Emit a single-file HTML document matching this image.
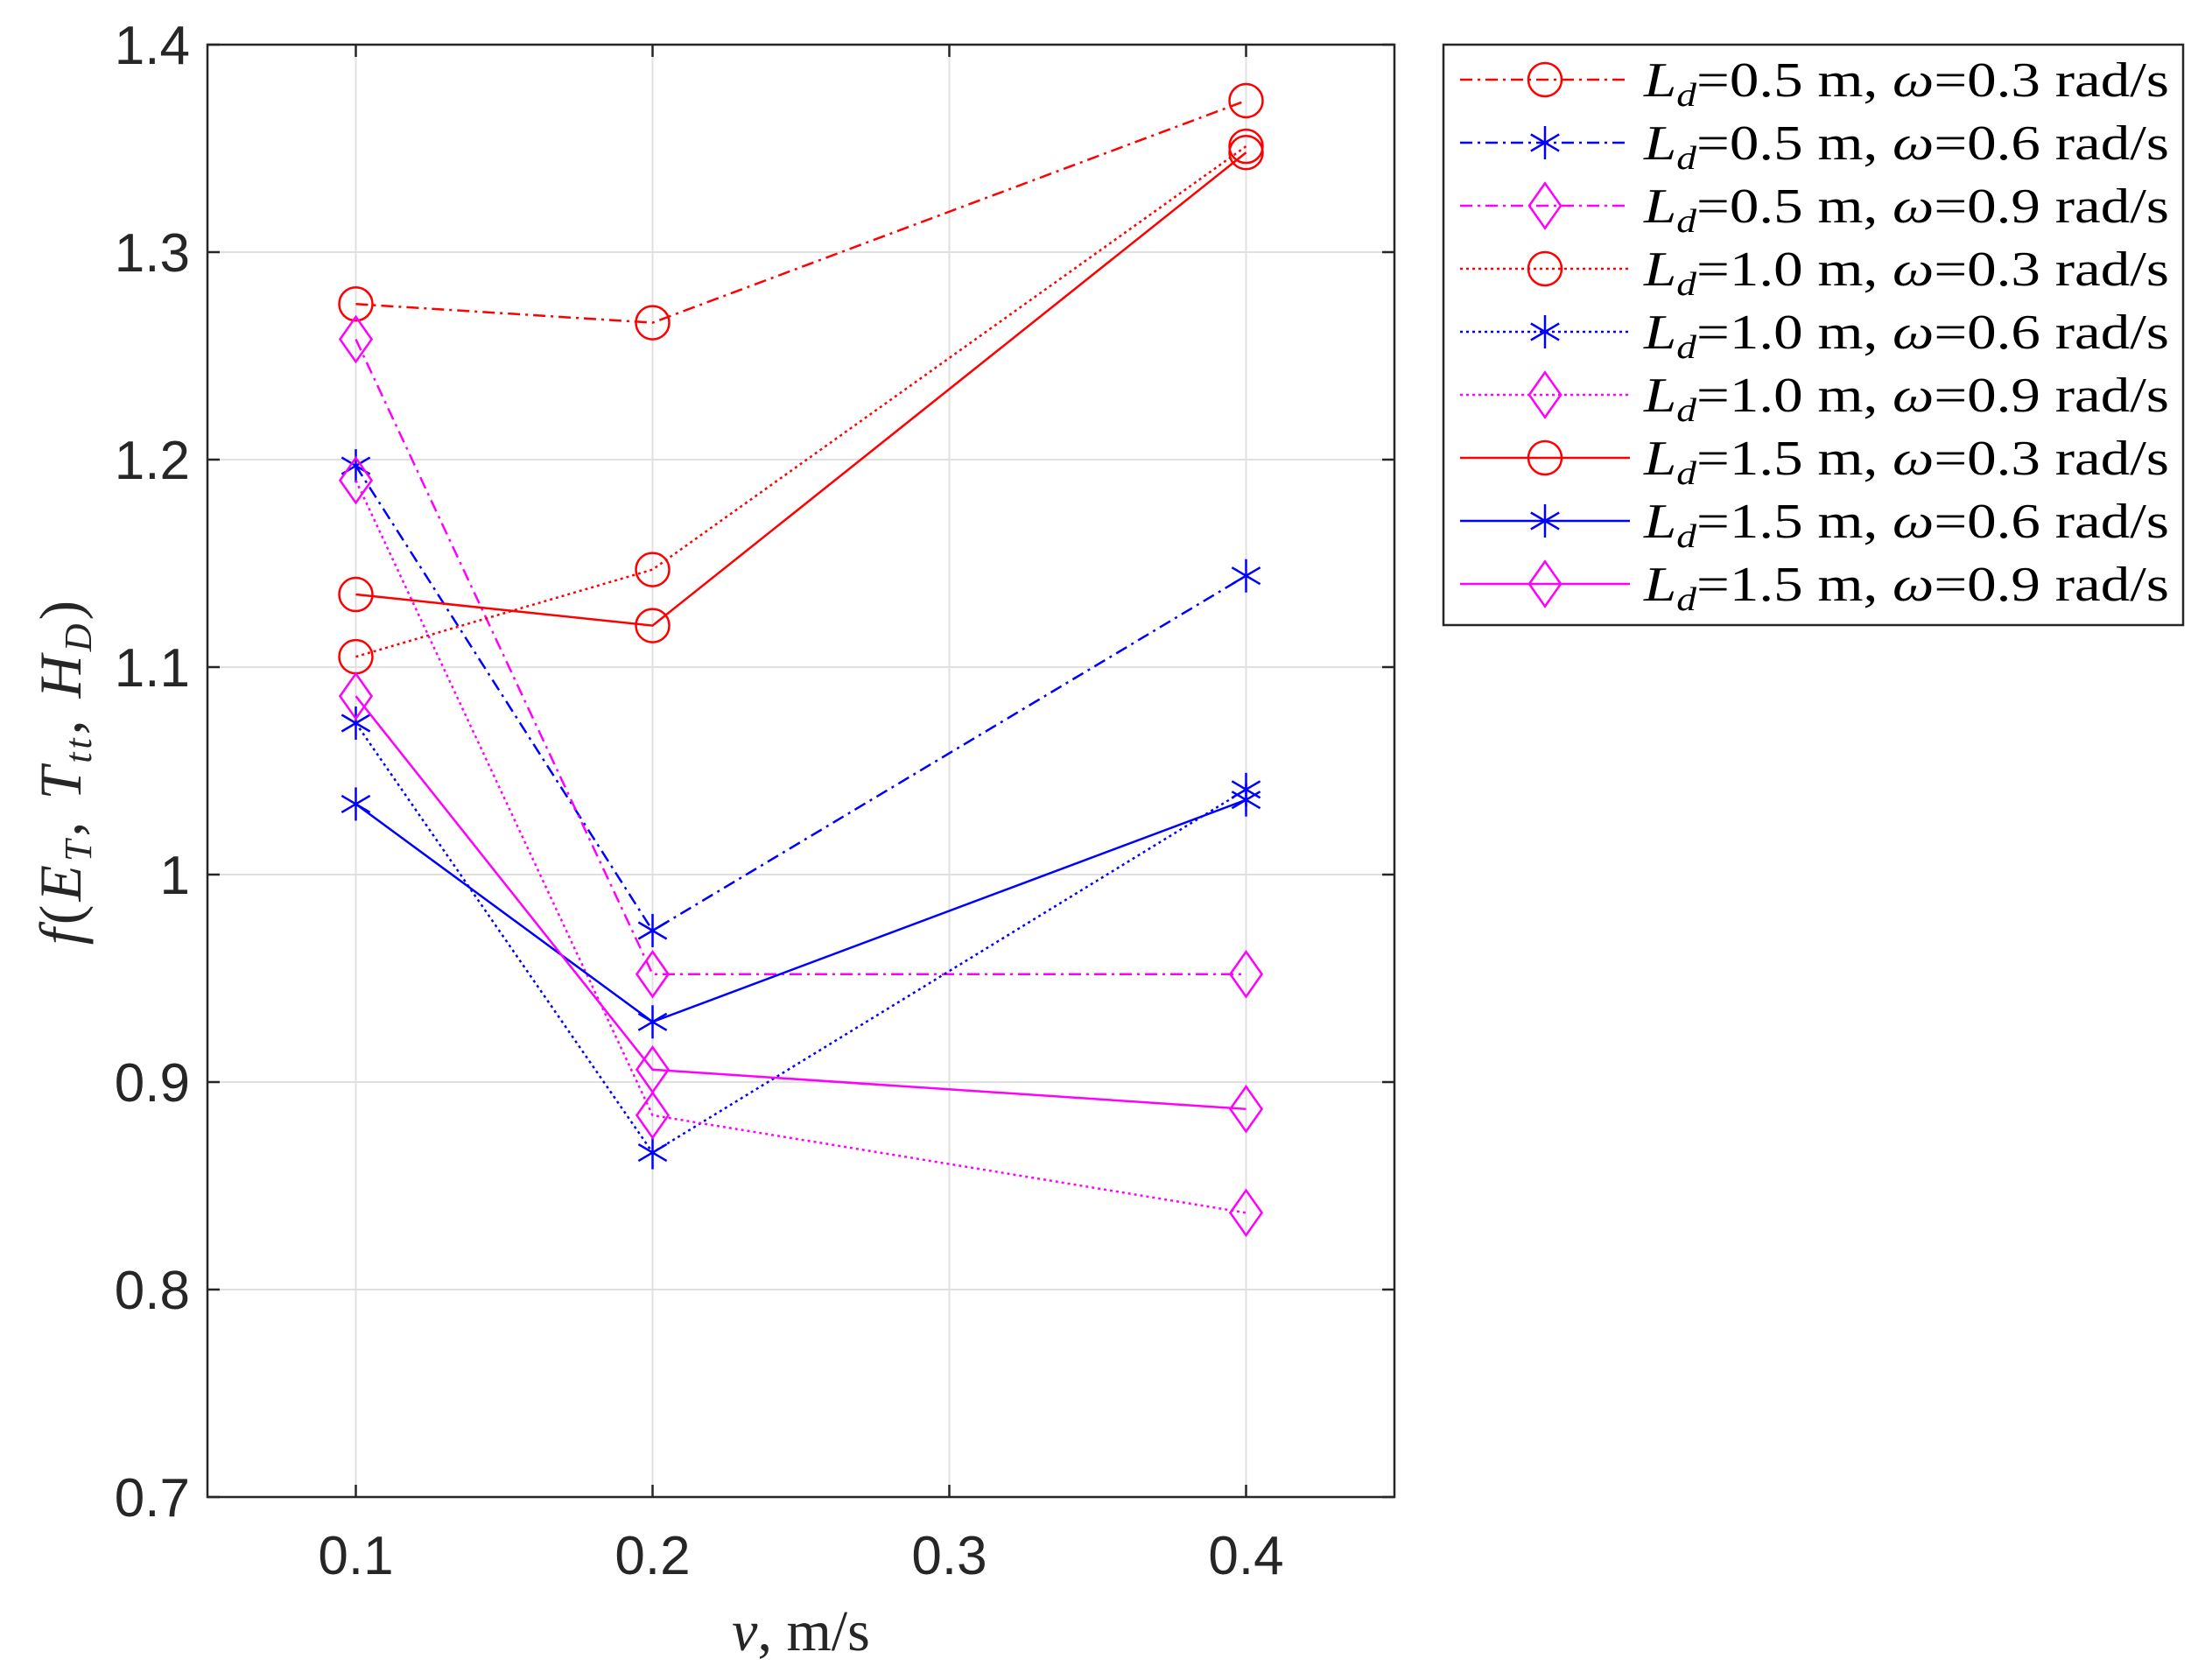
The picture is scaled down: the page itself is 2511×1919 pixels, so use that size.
<!DOCTYPE html>
<html><head><meta charset="utf-8"><style>
html,body{margin:0;padding:0;background:#fff;}
svg{display:block;}
</style></head><body>
<svg id="chart" width="2511" height="1919" viewBox="0 0 2511 1919" xmlns="http://www.w3.org/2000/svg"></svg>
<script>
const xCategories = [0.1, 0.2, 0.4];
const s1 = [1.275, 1.266, 1.373];
const s2 = [1.197, 0.973, 1.144];
const s3 = [1.258, 0.952, 0.952];
const s4 = [1.105, 1.147, 1.351];
const s5 = [1.073, 0.866, 1.041];
const s6 = [1.190, 0.884, 0.837];
const s7 = [1.135, 1.120, 1.348];
const s8 = [1.034, 0.929, 1.036];
const s9 = [1.086, 0.906, 0.887];
const xTicks = [0.1, 0.2, 0.3, 0.4];
const yTicks = [0.7, 0.8, 0.9, 1.0, 1.1, 1.2, 1.3, 1.4];
const yTickLabels = ["0.7","0.8","0.9","1","1.1","1.2","1.3","1.4"];
const seriesNames = ["0.5 m, ω=0.3","0.5 m, ω=0.6","0.5 m, ω=0.9","1.0 m, ω=0.3","1.0 m, ω=0.6","1.0 m, ω=0.9","1.5 m, ω=0.3","1.5 m, ω=0.6","1.5 m, ω=0.9"];

const NS="http://www.w3.org/2000/svg";
const svg=document.getElementById('chart');
const L=237,R=1593,T=51,B=1710;
const xMin=0.05,xMax=0.45,yMin=0.7,yMax=1.4;
function xs(v){return L+(v-xMin)/(xMax-xMin)*(R-L);}
function ys(v){return B-(v-yMin)/(yMax-yMin)*(B-T);}
function mk(tag,attrs,parent){const e=document.createElementNS(NS,tag);for(const k in attrs)e.setAttribute(k,attrs[k]);(parent||svg).appendChild(e);return e;}

const series=[
 {d:s1,c:'#ff0000',dash:'14,6,3,6',m:'o'},
 {d:s2,c:'#0000ff',dash:'14,6,3,6',m:'*'},
 {d:s3,c:'#ff00ff',dash:'14,6,3,6',m:'d'},
 {d:s4,c:'#ff0000',dash:'3,4',m:'o'},
 {d:s5,c:'#0000ff',dash:'3,4',m:'*'},
 {d:s6,c:'#ff00ff',dash:'3,4',m:'d'},
 {d:s7,c:'#ff0000',dash:'',m:'o'},
 {d:s8,c:'#0000ff',dash:'',m:'*'},
 {d:s9,c:'#ff00ff',dash:'',m:'d'}
];

mk('rect',{x:L,y:T,width:R-L,height:B-T,fill:'#fff'});
const grid=mk('g',{stroke:'#e0e0e0','stroke-width':2});


xTicks.forEach(t=>mk('line',{x1:xs(t),x2:xs(t),y1:T,y2:B},grid));
yTicks.forEach(t=>mk('line',{x1:L,x2:R,y1:ys(t),y2:ys(t)},grid));

const ax=mk('g',{stroke:'#262626','stroke-width':2.5});
xTicks.forEach(t=>{mk('line',{x1:xs(t),x2:xs(t),y1:B,y2:B-14},ax);mk('line',{x1:xs(t),x2:xs(t),y1:T,y2:T+14},ax);
 const tx=mk('text',{x:xs(t),y:B+88,'text-anchor':'middle','font-family':'Liberation Sans, sans-serif','font-size':62,fill:'#262626'});tx.textContent=String(t);
 
 });
yTicks.forEach((t,i)=>{mk('line',{x1:L,x2:L+14,y1:ys(t),y2:ys(t)},ax);mk('line',{x1:R,x2:R-14,y1:ys(t),y2:ys(t)},ax);
 const tx=mk('text',{x:L-20,y:ys(t)+22,'text-anchor':'end','font-family':'Liberation Sans, sans-serif','font-size':62,fill:'#262626'});tx.textContent=yTickLabels[i];
 
 });
const frame=mk('rect',{x:L,y:T,width:R-L,height:B-T,fill:'none',stroke:'#262626','stroke-width':2.5});



function marker(type,x,y,c,parent,s){
 s=s||19;
 if(type==='o')mk('circle',{cx:x,cy:y,r:s,fill:'none',stroke:c,'stroke-width':2.5},parent);
 else if(type==='d')mk('polygon',{points:`${x},${y-s*1.35} ${x+s*0.95},${y} ${x},${y+s*1.35} ${x-s*0.95},${y}`,fill:'none',stroke:c,'stroke-width':2.5},parent);
 else{const r=s*1.0;mk('line',{x1:x,x2:x,y1:y-r,y2:y+r,stroke:c,'stroke-width':2.5},parent);
  mk('line',{x1:x-r*0.85,x2:x+r*0.85,y1:y-r*0.5,y2:y+r*0.5,stroke:c,'stroke-width':2.5},parent);
  mk('line',{x1:x+r*0.85,x2:x-r*0.85,y1:y-r*0.5,y2:y+r*0.5,stroke:c,'stroke-width':2.5},parent);}
}

series.forEach((s,i)=>{
 const g=mk('g',{});
 
 
 const pts=s.d.map((v,j)=>xs(xCategories[j])+','+ys(v)).join(' ');
 const pl=mk('polyline',{points:pts,fill:'none',stroke:s.c,'stroke-width':2.5});
 g.appendChild(pl);
 if(s.dash)pl.setAttribute('stroke-dasharray',s.dash);
 s.d.forEach((v,j)=>marker(s.m,xs(xCategories[j]),ys(v),s.c,g));
});

const xl=mk('text',{x:(L+R)/2,y:1885,'text-anchor':'middle','font-family':'Liberation Serif, serif','font-size':66,fill:'#262626'});
xl.innerHTML='<tspan font-style="italic">v</tspan>, m/s';


const yl=mk('text',{x:0,y:0,transform:`translate(92,${(T+B)/2}) rotate(-90)`,'text-anchor':'middle','font-family':'Liberation Serif, serif','font-size':68,fill:'#262626','letter-spacing':4});
yl.innerHTML='<tspan font-style="italic">f</tspan>(<tspan font-style="italic">E</tspan><tspan font-size="44" font-style="italic" dy="12">T</tspan><tspan dy="-12">, </tspan><tspan font-style="italic">T</tspan><tspan font-size="44" font-style="italic" dy="12">tt</tspan><tspan dy="-12">, </tspan><tspan font-style="italic">H</tspan><tspan font-size="44" font-style="italic" dy="12">D</tspan><tspan dy="-12">)</tspan>';



const lg=mk('g',{});


mk('rect',{x:1649,y:51,width:845,height:663,fill:'#fff',stroke:'#262626','stroke-width':2.5},lg);
series.forEach((s,i)=>{
 const y=91+i*72;
 const e=mk('g',{},lg);
 
 
 const ln=mk('line',{x1:1668,x2:1862,y1:y,y2:y,stroke:s.c,'stroke-width':2.5},e);
 if(s.dash)ln.setAttribute('stroke-dasharray',s.dash);
 marker(s.m,1765,y,s.c,e,19);
 const t=mk('text',{x:1878,y:y+19,'font-family':'Liberation Serif, serif','font-size':56,fill:'#000',textLength:600,lengthAdjust:'spacingAndGlyphs'},e);
 const parts=seriesNames[i].split(', ω=');
 t.innerHTML='<tspan font-style="italic">L</tspan><tspan font-style="italic" font-size="38" dy="11">d</tspan><tspan dy="-11">=' + parts[0] + ', </tspan><tspan font-style="italic">ω</tspan>=' + parts[1] + ' rad/s';
});
</script>
</body></html>
